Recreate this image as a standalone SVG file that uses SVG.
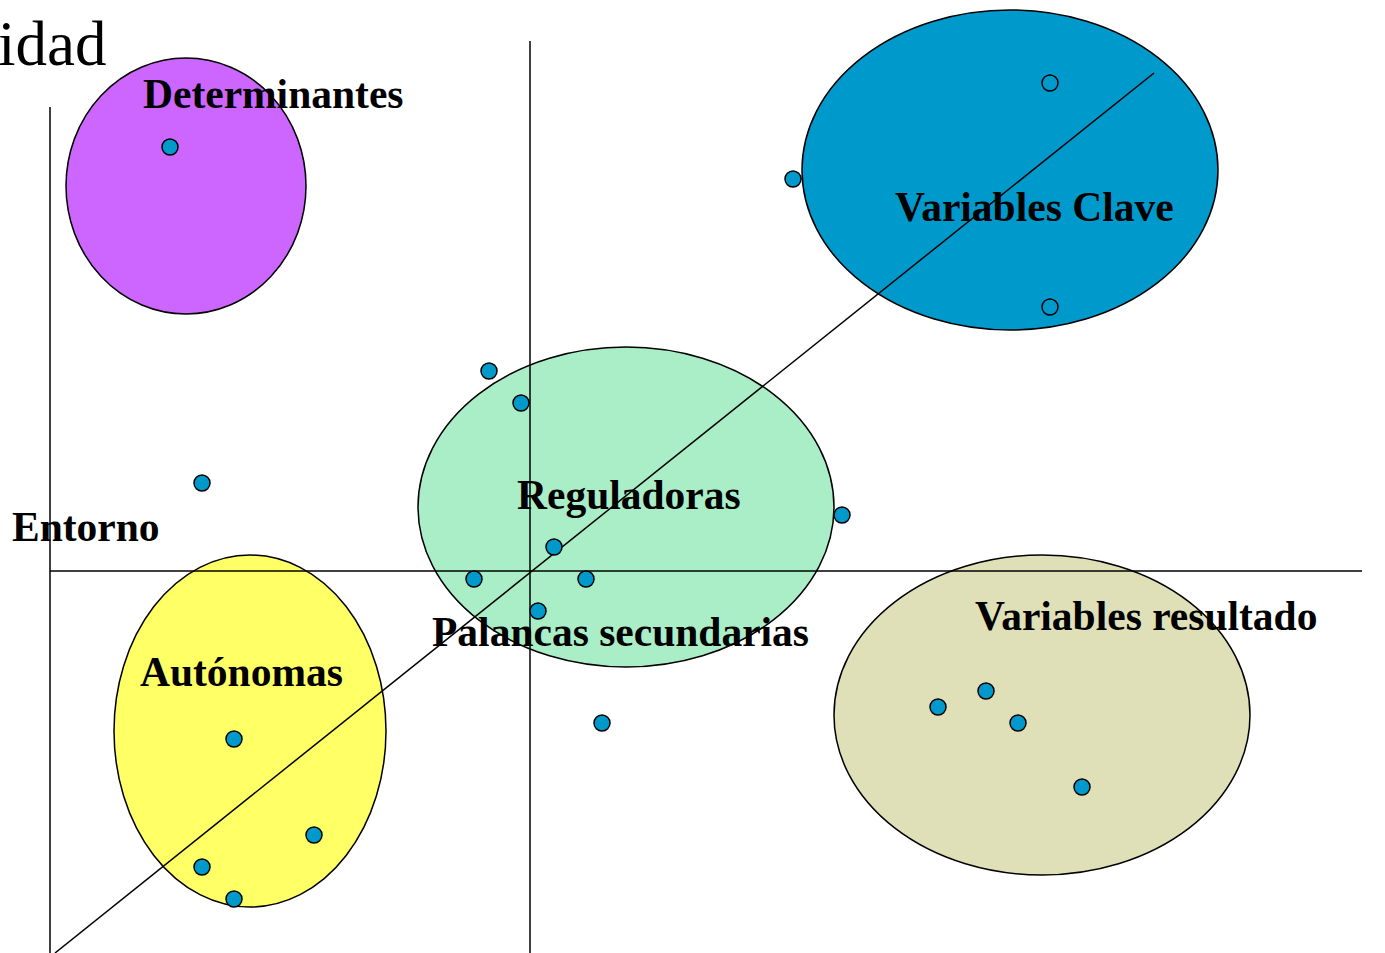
<svg xmlns="http://www.w3.org/2000/svg" width="1385" height="953" viewBox="0 0 1385 953">
<style>
.ell{stroke:#000;stroke-width:1.5}
.ax{stroke:#000;stroke-width:1.5;fill:none}
.dot{fill:#0099cc;stroke:#000;stroke-width:1.5}
.lbl{font-family:"Liberation Serif","Times New Roman",serif;font-weight:bold;font-size:41.5px;fill:#000}
.ttl{font-family:"Liberation Serif","Times New Roman",serif;font-size:63px;fill:#000}
</style>
<rect width="1385" height="953" fill="#fff"/>
<text class="ttl" x="-2" y="65">idad</text>
<g id="determinantes"><ellipse class="ell" cx="186" cy="186" rx="120" ry="128" fill="#cc66ff"/></g>
<g id="variables-clave"><ellipse class="ell" cx="1010" cy="170" rx="208" ry="160" fill="#0099cc"/></g>
<g id="reguladoras"><ellipse class="ell" cx="626" cy="507" rx="208" ry="160" fill="#aaeec8"/></g>
<g id="autonomas"><ellipse class="ell" cx="250" cy="731" rx="136" ry="176" fill="#ffff66"/></g>
<g id="variables-resultado"><ellipse class="ell" cx="1042" cy="715" rx="208" ry="160" fill="#dfe0b8"/></g>
<g id="labels">
<text class="lbl" x="143" y="108">Determinantes</text>
<text class="lbl" x="895" y="221">Variables Clave</text>
<text class="lbl" x="517" y="509">Reguladoras</text>
<text class="lbl" x="12" y="541">Entorno</text>
<text class="lbl" x="975" y="630">Variables resultado</text>
<text class="lbl" x="432" y="646">Palancas secundarias</text>
<text class="lbl" x="140" y="686">Autónomas</text>
</g>
<g id="connectors">
<line class="ax" x1="50" y1="107" x2="50" y2="953"/>
<line class="ax" x1="530" y1="41" x2="530" y2="953"/>
<line class="ax" x1="50" y1="571" x2="1362" y2="571"/>
<line class="ax" x1="55" y1="953" x2="1154" y2="73"/>
</g>
<g id="points">
<circle class="dot" cx="170" cy="147" r="8"/>
<circle class="dot" cx="1050" cy="83" r="8"/>
<circle class="dot" cx="1050" cy="307" r="8"/>
<circle class="dot" cx="793" cy="179" r="8"/>
<circle class="dot" cx="489" cy="371" r="8"/>
<circle class="dot" cx="521" cy="403" r="8"/>
<circle class="dot" cx="202" cy="483" r="8"/>
<circle class="dot" cx="842" cy="515" r="8"/>
<circle class="dot" cx="554" cy="547" r="8"/>
<circle class="dot" cx="474" cy="579" r="8"/>
<circle class="dot" cx="586" cy="579" r="8"/>
<circle class="dot" cx="538" cy="611" r="8"/>
<circle class="dot" cx="602" cy="723" r="8"/>
<circle class="dot" cx="234" cy="739" r="8"/>
<circle class="dot" cx="314" cy="835" r="8"/>
<circle class="dot" cx="202" cy="867" r="8"/>
<circle class="dot" cx="234" cy="899" r="8"/>
<circle class="dot" cx="938" cy="707" r="8"/>
<circle class="dot" cx="986" cy="691" r="8"/>
<circle class="dot" cx="1018" cy="723" r="8"/>
<circle class="dot" cx="1082" cy="787" r="8"/>
</g>
</svg>
